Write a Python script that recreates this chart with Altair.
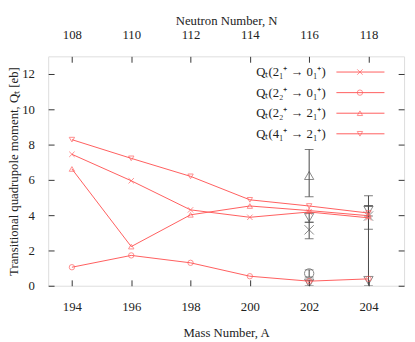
import altair as alt
import pandas as pd

# ---- data ----
mass = [194, 196, 198, 200, 202, 204]
series_names = ["Qₜ(2₁⁺ → 0₁⁺)", "Qₜ(2₂⁺ → 0₁⁺)", "Qₜ(2₂⁺ → 2₁⁺)", "Qₜ(4₁⁺ → 2₁⁺)"]
q21_01 = [7.45, 5.95, 4.30, 3.88, 4.18, 3.85]
q22_01 = [1.05, 1.72, 1.30, 0.54, 0.26, 0.39]
q22_21 = [6.62, 2.22, 4.02, 4.52, 4.26, 3.97]
q41_21 = [8.28, 7.22, 6.20, 4.87, 4.52, 4.12]

# experimental points (grey, with error bars)
exp_mass = [202, 202, 202, 202, 202, 204, 204, 204]
exp_series = [2, 3, 0, 1, 3, 3, 0, 3]
exp_val = [6.25, 3.87, 3.17, 0.70, 0.15, 4.28, 3.95, 0.30]
exp_lo = [5.05, 3.60, 2.67, 0.50, 0.00, 3.95, 3.20, 0.00]
exp_hi = [7.72, 4.15, 3.60, 0.90, 0.30, 4.55, 4.50, 5.10]

neutron_ticks = [108, 110, 112, 114, 116, 118]
y_ticks = [0, 2, 4, 6, 8, 10, 12]

# ---- styling ----
RED = "#ff5c5c"
GREY = "#555555"
FONT = "Liberation Serif"
CROSS = "M-1,-1L1,1M1,-1L-1,1"
shape_range = [CROSS, "circle", "triangle-up", "triangle-down"]
XDOM = [193.2, 205.2]
YDOM = [0, 13]
N_OFF = 86

rows = []
for name, vals in zip(series_names, [q21_01, q22_01, q22_21, q41_21]):
    for a, v in zip(mass, vals):
        rows.append({"series": name, "A": a, "Q": v})
df = pd.DataFrame(rows)

exp = pd.DataFrame({
    "A": exp_mass,
    "series": [series_names[i] for i in exp_series],
    "Q": exp_val, "lo": exp_lo, "hi": exp_hi,
})

xs = alt.Scale(domain=XDOM, nice=False, zero=False)
ys = alt.Scale(domain=YDOM, nice=False, zero=False)
shape_scale = alt.Scale(domain=series_names, range=shape_range)

common = dict(grid=False, domain=False, tickSize=6, offset=-6, tickColor="#333",
              labelFontSize=13, titleFontSize=13, labelFont=FONT, titleFont=FONT,
              titleFontWeight="normal", labelColor="#222", titleColor="#222",
              labelOverlap=False)

x_axis = alt.Axis(title="Mass Number, A", values=mass[:], format="d",
                  labelPadding=15, titlePadding=14, **common)
y_axis = alt.Axis(title="Transitional quadrupole moment, Qₜ [eb]", values=y_ticks,
                  labelPadding=14, titlePadding=1, **common)

base = alt.Chart(df)
lines = base.mark_line(color=RED, strokeWidth=1, clip=True).encode(
    x=alt.X("A:Q", scale=xs, axis=x_axis),
    y=alt.Y("Q:Q", scale=ys, axis=y_axis),
    detail="series:N",
)
pts = base.mark_point(color=RED, filled=False, size=30, strokeWidth=1, clip=True).encode(
    x=alt.X("A:Q", scale=xs, axis=x_axis),
    y=alt.Y("Q:Q", scale=ys, axis=y_axis),
    shape=alt.Shape("series:N", scale=shape_scale, legend=None),
)

ebase = alt.Chart(exp)
erules = ebase.mark_rule(color="#444", strokeWidth=1, clip=True).encode(
    x=alt.X("A:Q", scale=xs, axis=x_axis), y=alt.Y("lo:Q", scale=ys, axis=y_axis), y2="hi:Q")
ecap_lo = ebase.mark_tick(color="#444", thickness=1, size=9, orient="horizontal", clip=True).encode(
    x=alt.X("A:Q", scale=xs, axis=x_axis), y=alt.Y("lo:Q", scale=ys, axis=y_axis))
ecap_hi = ebase.mark_tick(color="#444", thickness=1, size=9, orient="horizontal", clip=True).encode(
    x=alt.X("A:Q", scale=xs, axis=x_axis), y=alt.Y("hi:Q", scale=ys, axis=y_axis))
epts = ebase.mark_point(color=GREY, filled=False, size=90, strokeWidth=1, clip=True).encode(
    x=alt.X("A:Q", scale=xs, axis=x_axis), y=alt.Y("Q:Q", scale=ys, axis=y_axis),
    shape=alt.Shape("series:N", scale=shape_scale, legend=None),
)

main = alt.layer(erules, ecap_lo, ecap_hi, epts, lines, pts)

# top axis (neutron number)
ndf = pd.DataFrame({"N": neutron_ticks})
top = alt.Chart(ndf).mark_point(opacity=0).encode(
    x=alt.X("N:Q", scale=alt.Scale(domain=[XDOM[0] - N_OFF, XDOM[1] - N_OFF], nice=False, zero=False),
            axis=alt.Axis(orient="top", title="Neutron Number, N", values=neutron_ticks, format="d",
                          labelPadding=15, titlePadding=1, **common)),
    y=alt.value(0),
)

# right mirrored y ticks
ydf = pd.DataFrame({"v": y_ticks})
right = alt.Chart(ydf).mark_point(opacity=0).encode(
    y=alt.Y("v:Q", scale=ys, axis=alt.Axis(orient="right", values=y_ticks, labels=False, title=None,
                                           grid=False, domain=False, tickSize=6, offset=-6,
                                           tickColor="#333")),
    x=alt.value(0),
)

# legend (drawn manually, symbols on the right of labels)
leg = pd.DataFrame({"series": series_names, "row": [0, 1, 2, 3]})
leg["ypix"] = 16 + leg["row"] * 21
lt = alt.Chart(leg).mark_text(align="right", baseline="middle", font=FONT, fontSize=13, color="#222").encode(
    x=alt.value(283), y=alt.Y("ypix:Q", scale=None, axis=None), text="series:N")
lr = alt.Chart(leg).mark_rule(color=RED, strokeWidth=1).encode(
    x=alt.value(294), x2=alt.value(343), y=alt.Y("ypix:Q", scale=None, axis=None))
lp = alt.Chart(leg).mark_point(color=RED, filled=False, size=30, strokeWidth=1).encode(
    x=alt.value(318), y=alt.Y("ypix:Q", scale=None, axis=None),
    shape=alt.Shape("series:N", scale=shape_scale, legend=None))
legend = alt.layer(lt, lr, lp)

chart = alt.layer(main, top, right, legend).resolve_scale(
    x="independent", y="independent", shape="independent"
).properties(
    width=363, height=234,
    autosize=alt.AutoSizeParams(type="none"),
    padding={"left": 41, "top": 46, "right": 3, "bottom": 52},
).configure_view(stroke="#777", strokeWidth=1.5).configure_axis(
    titleFont=FONT, labelFont=FONT, titleFontWeight="normal", labelOverlap=False
).configure(background="white")

chart.save("out.html", embed_options={"renderer": "svg", "actions": False})
